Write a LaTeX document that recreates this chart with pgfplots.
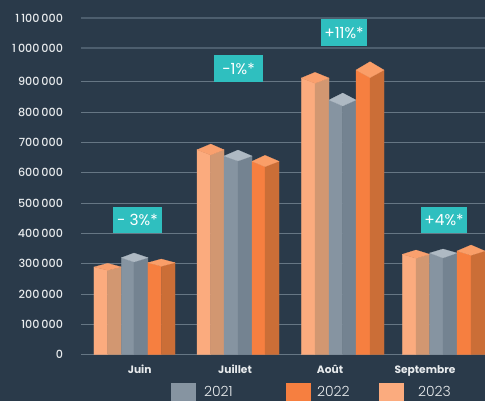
\documentclass[border=0pt]{standalone}
\usepackage{fontspec}
\setmainfont{Poppins}
\newfontfamily\lightf{Poppins Light}
\newfontfamily\medf{Poppins Medium}
\usepackage{pgfplots}
\pgfplotsset{compat=1.18}

\definecolor{bg}{HTML}{2A3A4A}
\definecolor{gridc}{HTML}{667684}
\definecolor{gridtop}{HTML}{4D5E6E}
\definecolor{teal}{HTML}{2FBFBF}
\definecolor{txt}{HTML}{E8EBED}
% 2021 grey, 2022 orange, 2023 light orange: front, side, top
\definecolor{gf}{HTML}{8694A1}\definecolor{gs}{HTML}{748391}\definecolor{gt}{HTML}{AEB9C3}
\definecolor{of}{HTML}{F67F40}\definecolor{os}{HTML}{CB6E37}\definecolor{ot}{HTML}{FA9E68}
\definecolor{lf}{HTML}{FBAB7E}\definecolor{ls}{HTML}{D29771}\definecolor{lt}{HTML}{F9A06E}

% left, middle, right pixel column; shoulder, back corner, front corner values; colour prefix
\newcommand{\prism}[7]{%
  \addplot[fill=#7f,draw=#7f,line width=0.15pt,forget plot] coordinates {(#1,0) (#2,0) (#2,#6) (#1,#4)} --cycle;
  \addplot[fill=#7s,draw=#7s,line width=0.15pt,forget plot] coordinates {(#2,0) (#3,0) (#3,#4) (#2,#6)} --cycle;
  \addplot[fill=#7t,draw=#7t,line width=0.15pt,forget plot] coordinates {(#1,#4) (#2,#5) (#3,#4) (#2,#6)} --cycle;
}
\newcommand{\tagbox}[4]{\node[fill=teal,text=white,inner sep=0pt,minimum width=#3*0.75pt,minimum height=20pt,
  font=\fontsize{11.5}{13}\selectfont] at (axis cs:#1,#2) {#4};}

\begin{document}
\begin{tikzpicture}[x=0.75pt,y=0.75pt]
\useasboundingbox (-81,-46.5) rectangle (404,354.5);
\fill[bg] (-81,-46.5) rectangle (404,354.5);
\begin{axis}[
    at={(0,0)}, anchor=origin,
    scale only axis,
    width=303pt, height=265.875pt,
    xmin=81, xmax=485, ymin=0, ymax=1169956,
    clip=false,
    scaled y ticks=false,
    axis line style={draw=none},
    tick style={draw=none},
    xtick={139.7,235,330,425},
    xticklabels={Juin,Juillet,Août,Septembre},
    xticklabel style={font=\fontsize{8}{9}\selectfont\bfseries, text=txt, yshift=-4.5pt},
    ytick={0,100000,200000,300000,400000,500000,600000,700000,800000,900000},
    yticklabels={0,100\,000,200\,000,300\,000,400\,000,500\,000,600\,000,700\,000,800\,000,900\,000},
    yticklabel style={font=\medf\fontsize{8.4}{9}\selectfont, text=txt, xshift=-10pt},
    extra y ticks={1011000,1111000},
    extra y tick labels={1\,000\,000,1\,100\,000},
    extra tick style={grid style={gridtop,line width=1pt}},
    ymajorgrids,
    grid style={gridc,line width=0.6pt},
    legend columns=3,
    legend cell align=left,
    legend style={
        at={(axis cs:171,-94060)}, anchor=north west,
        draw=none, fill=none, inner sep=0pt, outer sep=0pt,
        font=\lightf\fontsize{10.5}{12}\selectfont, text=txt,
        nodes={inner sep=0pt},
        /tikz/column 1/.style={column sep=6pt},
        /tikz/column 2/.style={column sep=40pt},
        /tikz/column 3/.style={column sep=4.5pt},
        /tikz/column 4/.style={column sep=22pt},
        /tikz/column 5/.style={column sep=10.5pt},
    },
    legend image code/.code={\fill[#1] (0pt,-6.75pt) rectangle (18.75pt,6.75pt);},
]
% Juin
\prism{94}{107.7}{121.5}{288800}{301000}{277900}{l}
\prism{121.5}{134}{148}{319500}{335000}{305300}{g}
\prism{148}{161.3}{175}{303000}{315200}{291100}{o}
% Juillet
\prism{197}{210.7}{224}{675600}{694700}{658400}{l}
\prism{224}{238}{252}{655100}{674900}{638600}{g}
\prism{252}{265}{279}{637600}{657400}{619800}{o}
% Aout
\prism{301.3}{315}{329}{912500}{931300}{895000}{l}
\prism{329}{342.7}{356}{839900}{863000}{820100}{g}
\prism{356}{370}{384}{938900}{966300}{913500}{o}
% Septembre
\prism{402.3}{416}{429.7}{330700}{344900}{317500}{l}
\prism{429.7}{443}{457}{335000}{348200}{318500}{g}
\prism{457}{471}{485}{341600}{361400}{327400}{o}

\tagbox{137.5}{443900}{49}{- 3\%*}
\tagbox{238.5}{943900}{49}{-1\%*}
\tagbox{344}{1062700}{46}{+11\%*}
\tagbox{444}{443900}{46}{+4\%*}

\addlegendimage{fill=gf,draw=none}
\addlegendentry{2021}
\addlegendimage{fill=of,draw=none}
\addlegendentry{2022}
\addlegendimage{fill=lf,draw=none}
\addlegendentry{2023}
\end{axis}
\end{tikzpicture}
\end{document}
